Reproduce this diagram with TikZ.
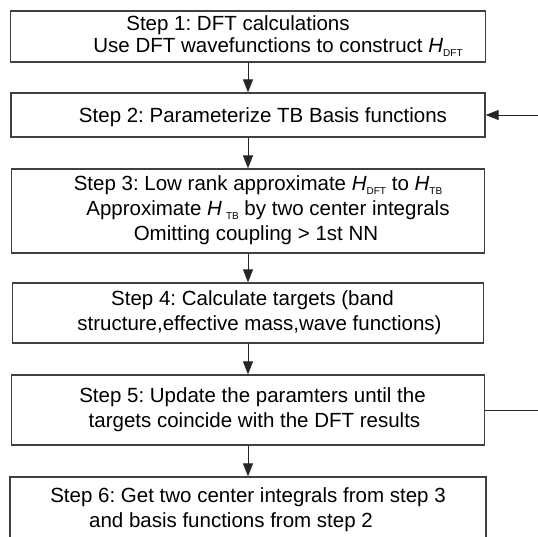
\documentclass[tikz,border=0pt]{standalone}
\usepackage{fontspec}
\setmainfont{Liberation Sans}
\usetikzlibrary{arrows.meta}

% italic H with a small upright index
\newcommand{\Hs}[2][0pt]{\textit{H}\kern#1\raisebox{-0.35ex}{\fontsize{10}{10}\selectfont #2}}
% strut for the first and last line of a box
\newcommand{\boxstrut}{\rule[-5pt]{0pt}{25pt}}

\begin{document}
\begin{tikzpicture}[x=1pt,y=-1pt,
    stepbox/.style={draw=black!75, line width=1.3pt, fill=white, inner sep=0pt,
      align=center, font=\fontsize{20.5}{25}\selectfont\frenchspacing,
      execute at begin node=\boxstrut, execute at end node=\boxstrut},
    flow/.style={line width=1pt, black!85, -{Triangle[length=13pt,width=10pt]}}]
  \useasboundingbox (0,0) rectangle (538,536);
  \clip (0,0) rectangle (538,536);

  % the six steps
  \node[stepbox, minimum width=475, minimum height=51] (s1) at (248,36.5)
    {\hspace*{-20pt}Step 1: DFT calculations\\[-2.5pt]
     \hspace*{60pt}Use DFT wavefunctions to construct \Hs{DFT}};
  \node[stepbox, minimum width=474, minimum height=44] (s2) at (248,115)
    {\hspace*{30pt}Step 2: Parameterize TB Basis functions};
  \node[stepbox, minimum width=473, minimum height=84] (s3) at (248,211)
    {\hspace*{20pt}Step 3: Low rank approximate \Hs{DFT} to \Hs{TB}\\
     \hspace*{40pt}Approximate \Hs[4pt]{TB} by two center integrals\\
     \hspace*{16pt}Omitting coupling > 1st NN};
  \node[stepbox, minimum width=471, minimum height=60] (s4) at (248,313)
    {\hspace*{9pt}Step 4: Calculate targets (band\\
     \hspace*{23pt}structure,effective mass,wave functions)};
  \node[stepbox, minimum width=473, minimum height=70] (s5) at (248,410)
    {\hspace*{9pt}Step 5: Update the paramters until the\\
     \hspace*{13pt}targets coincide with the DFT results};
  \node[stepbox, minimum width=476, minimum height=66] (s6) at (248,510)
    {Step 6: Get two center integrals from step 3\\
     \hspace*{-34pt}and basis functions from step 2};

  % arrows down
  \draw[flow] (s1) -- (s2);
  \draw[flow] (s2) -- (s3);
  \draw[flow] (s3) -- (s4);
  \draw[flow] (s4) -- (s5);
  \draw[flow] (s5) -- (s6);

  % back to step 2
  \draw[flow] (s5.east) -- ++(62,0) |- (s2.east);
\end{tikzpicture}
\end{document}
